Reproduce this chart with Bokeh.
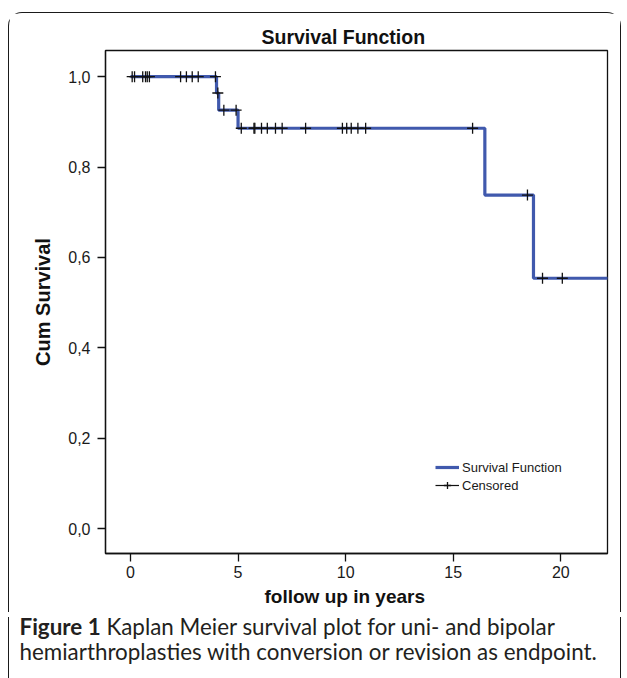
from bokeh.plotting import figure
from bokeh.layouts import column
from bokeh.models import FixedTicker, Legend, LegendItem, Range1d, Title, Div
from bokeh.embed import file_html
from bokeh.resources import INLINE

# ---- data ----
step_time = [0.0, 4.0, 4.1, 5.0, 16.47, 18.73, 22.3]
step_surv = [1.0, 0.964, 0.926, 0.886, 0.738, 0.554, 0.554]

cens_time = [0.08, 0.19, 0.57, 0.70, 0.78, 0.88, 2.33, 2.60, 2.87, 3.15, 3.95,
             4.06,
             4.34, 4.91,
             5.15, 5.74, 5.78, 6.09, 6.36, 6.74, 7.05, 8.14, 9.85, 10.05, 10.26,
             10.57, 10.93, 15.9,
             18.45,
             19.15, 20.07]
cens_surv = [1.0] * 11 + [0.964] + [0.926] * 2 + [0.886] * 14 + [0.738] + [0.554] * 2

x_ticks = [0, 5, 10, 15, 20]
y_ticks = [0.0, 0.2, 0.4, 0.6, 0.8, 1.0]
y_tick_labels = ["0,0", "0,2", "0,4", "0,6", "0,8", "1,0"]

title_text = "Survival Function"
x_label = "follow up in years"
y_label = "Cum Survival"
caption_bold = "Figure 1"
caption_line1 = "Kaplan Meier survival plot for uni- and bipolar"
caption_line2 = "hemiarthroplasties with conversion or revision as endpoint."

FONT = "Liberation Sans"
CAP = "Lato"
INK = "#111111"
W, H1, H2 = 613, 600, 64

p = figure(width=W, height=H1, output_backend="svg", toolbar_location=None,
           x_range=Range1d(-1.16, 22.17), y_range=Range1d(-0.055, 1.058),
           min_border_left=96, min_border_right=15, min_border_top=37,
           min_border_bottom=60, background_fill_color="white",
           border_fill_color="white")
p.grid.visible = False
p.outline_line_color = INK
p.outline_line_width = 1.3

p.title.text = title_text
p.title.align = "left"
p.title.offset = 156
p.title.standoff = 6
p.title.text_font = FONT
p.title.text_font_size = "19.5px"
p.title.text_font_style = "bold"
p.title.text_color = INK

for ax in (p.xaxis[0], p.yaxis[0]):
    ax.major_tick_out = 8
    ax.major_tick_in = 0
    ax.minor_tick_out = 0
    ax.minor_tick_in = 0
    ax.axis_line_color = INK
    ax.axis_line_width = 1.3
    ax.major_tick_line_color = INK
    ax.major_tick_line_width = 1.3
    ax.major_label_text_font = FONT
    ax.major_label_text_font_size = "16px"
    ax.major_label_text_color = "#1a1a1a"

p.xaxis.major_label_standoff = 4
p.yaxis.major_label_standoff = 7
p.xaxis.ticker = FixedTicker(ticks=x_ticks)
p.yaxis.ticker = FixedTicker(ticks=y_ticks)
p.yaxis.major_label_overrides = {t: l for t, l in zip(y_ticks, y_tick_labels)}
p.yaxis.axis_label = y_label
p.yaxis.axis_label_text_font = FONT
p.yaxis.axis_label_text_font_size = "20px"
p.yaxis.axis_label_text_font_style = "bold"
p.yaxis.axis_label_text_color = INK
p.yaxis.axis_label_standoff = 11

p.add_layout(Title(text=x_label, align="left", offset=159, standoff=7,
                   text_font=FONT, text_font_size="19px", text_font_style="bold",
                   text_color=INK), "below")

step_r = p.step(step_time, step_surv, mode="after", line_color="#4059AD",
                line_width=3.2)
cens_r = p.scatter(cens_time, cens_surv, marker="cross", size=11,
                   line_color=INK, line_width=1.3)
cens_key = p.line([float("nan")], [float("nan")], line_color=INK, line_width=1.2)

legend = Legend(items=[LegendItem(label="Survival Function", renderers=[step_r]),
                       LegendItem(label="Censored", renderers=[cens_r, cens_key])],
                location=(330, 59), orientation="vertical",
                glyph_width=24, glyph_height=18, label_height=18,
                label_standoff=3, padding=0, spacing=0, margin=0,
                border_line_alpha=0, background_fill_alpha=0,
                label_text_font=FONT, label_text_font_size="13px",
                label_text_color="#1a1a1a")
p.add_layout(legend)

caption_html = (
    f'<div style="font-family: {CAP}, sans-serif; font-size: 22.4px; '
    f'line-height: 25px; color: #231f20; padding: 0 0 0 10.5px; '
    f'position: relative; top: -3px; white-space: nowrap;">'
    f'<b>{caption_bold}</b> {caption_line1}<br>{caption_line2}</div>'
)
cap = Div(text=caption_html, width=W, height=H2)

BORDER = "1.5px solid #1a1a1a"
p.styles = {"margin-top": "12px", "margin-left": "8px",
            "border-top": BORDER, "border-left": BORDER, "border-right": BORDER,
            "border-top-left-radius": "14px", "border-top-right-radius": "14px"}
cap.styles = {"margin-left": "8px", "border-left": BORDER, "border-right": BORDER,
              "background-color": "white"}

layout = column(p, cap, spacing=0)

open("out.html", "w").write(file_html(layout, INLINE))
